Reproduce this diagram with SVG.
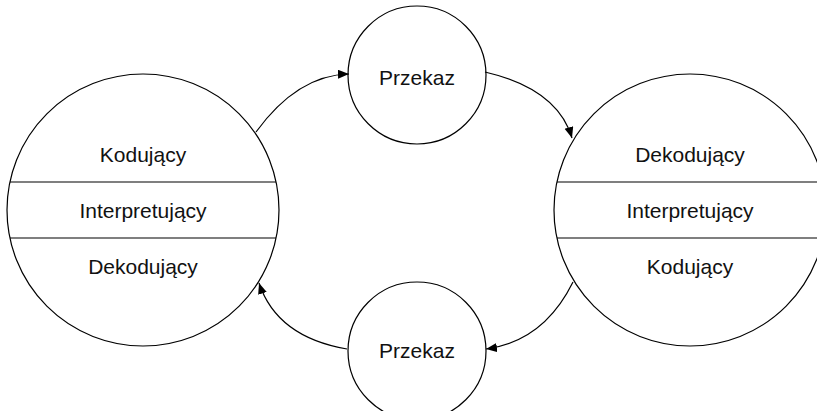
<svg xmlns="http://www.w3.org/2000/svg" width="817" height="411" viewBox="0 0 817 411">
<style>
.shape{fill:#fff;stroke:#000;stroke-width:1.2}
.div{stroke:#000;stroke-width:1.2;fill:none}
.lbl{font-family:"Liberation Sans",Arial,sans-serif;font-size:21px;fill:#111;text-anchor:middle}
.conn{fill:none;stroke:#000;stroke-width:1.2;marker-end:url(#arr)}
</style>
<defs>
<marker id="arr" markerUnits="userSpaceOnUse" markerWidth="12" markerHeight="10" refX="11" refY="4.5" orient="auto">
<path d="M0,0 L11,4.5 L0,9 z" fill="#000"/>
</marker>
</defs>
<rect width="817" height="411" fill="#fff"/>
<g id="left-node">
<circle class="shape" cx="143" cy="210" r="136"/>
<line class="div" x1="10" y1="182" x2="276" y2="182"/>
<line class="div" x1="10" y1="238" x2="276" y2="238"/>
<text class="lbl" x="143" y="162">Kodujący</text>
<text class="lbl" x="143" y="218">Interpretujący</text>
<text class="lbl" x="143" y="274">Dekodujący</text>
</g>
<g id="right-node">
<circle class="shape" cx="690" cy="210" r="136"/>
<line class="div" x1="557" y1="182" x2="823" y2="182"/>
<line class="div" x1="557" y1="238" x2="823" y2="238"/>
<text class="lbl" x="690" y="162">Dekodujący</text>
<text class="lbl" x="690" y="218">Interpretujący</text>
<text class="lbl" x="690" y="274">Kodujący</text>
</g>
<g id="top-node">
<circle class="shape" cx="417" cy="75" r="69"/>
<text class="lbl" x="417" y="85">Przekaz</text>
</g>
<g id="bottom-node">
<circle class="shape" cx="417" cy="351" r="69"/>
<text class="lbl" x="417" y="358">Przekaz</text>
</g>
<g id="connectors">
<path class="conn" d="M256,132 Q297.5,75 349,74"/>
<path class="conn" d="M485,72 Q557.5,89 572,138"/>
<path class="conn" d="M573,282 Q543.7,341.3 486,349"/>
<path class="conn" d="M347,349 Q277,337 259,283"/>
</g>
</svg>
